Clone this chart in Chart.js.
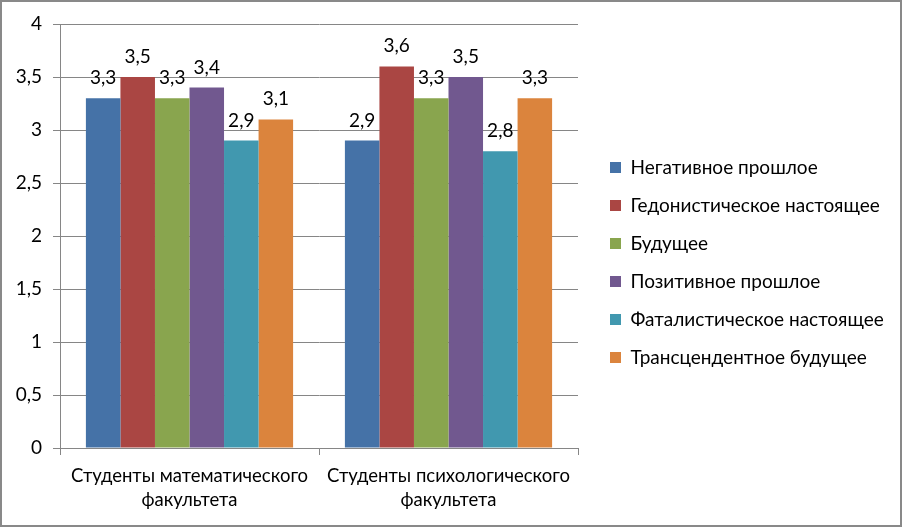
<!DOCTYPE html>
<html lang="ru">
<head>
<meta charset="UTF-8">
<title>Временная перспектива студентов</title>
<script src="https://cdn.jsdelivr.net/npm/chart.js@4.4.1/dist/chart.umd.min.js"></script>
<style>
    html, body { margin: 0; padding: 0; background: #ffffff; }
    #chartBox { position: relative; width: 902px; height: 527px; }
</style>
</head>
<body>
<div id="chartBox"><canvas id="chartCanvas"></canvas></div>
<script>
// данные
const categories = [
    ['Студенты математического', 'факультета'],
    ['Студенты психологического', 'факультета']
];
const seriesNames = [
    'Негативное прошлое',
    'Гедонистическое настоящее',
    'Будущее',
    'Позитивное прошлое',
    'Фаталистическое настоящее',
    'Трансцендентное будущее'
];
const negativePast = [3.3, 2.9];
const hedonisticPresent = [3.5, 3.6];
const future = [3.3, 3.3];
const positivePast = [3.4, 3.5];
const fatalisticPresent = [2.9, 2.8];
const transcendentalFuture = [3.1, 3.3];
const yTicks = [0, 0.5, 1, 1.5, 2, 2.5, 3, 3.5, 4];

const seriesValues = [negativePast, hedonisticPresent, future, positivePast, fatalisticPresent, transcendentalFuture];
const seriesColors = ['#4572A7', '#AA4643', '#89A54E', '#71588F', '#4198AF', '#DB843D'];

const fontFamily = 'Lato, "Open Sans", sans-serif';
const gridColor = '#868686';
const legendWidth = 324;   // место справа под легенду

// число с запятой
function formatNumber(v) {
    return String(v).replace('.', ',');
}

// подписи над столбцами
const barLabels = {
    id: 'barLabels',
    afterDatasetsDraw(chart) {
        const ctx = chart.ctx;
        ctx.save();
        ctx.font = '19px ' + fontFamily;
        ctx.fillStyle = '#000000';
        ctx.textAlign = 'center';
        ctx.textBaseline = 'alphabetic';
        chart.data.datasets.forEach((ds, i) => {
            const meta = chart.getDatasetMeta(i);
            meta.data.forEach((bar, j) => {
                ctx.fillText(formatNumber(ds.data[j]), bar.x, bar.y - 14);
            });
        });
        ctx.restore();
    }
};

// фиксированная ширина легенды и её сдвиг
const legendPlace = {
    id: 'legendPlace',
    beforeLayout(chart) {
        const legend = chart.legend;
        if (legend && !legend._fixedWidth) {
            const fit = legend.fit.bind(legend);
            legend.fit = function () {
                fit();
                this.width = legendWidth;
            };
            legend._fixedWidth = true;
        }
    },
    afterLayout(chart) {
        const legend = chart.legend;
        legend.left += 13;
        legend.top -= 13;
        legend.bottom -= 13;
    }
};

// рамка вокруг диаграммы
const outerFrame = {
    id: 'outerFrame',
    afterDraw(chart) {
        const ctx = chart.ctx;
        ctx.save();
        ctx.strokeStyle = '#898989';
        ctx.lineWidth = 2;
        ctx.strokeRect(1, 1, chart.width - 2, chart.height - 2);
        ctx.restore();
    }
};

const datasets = seriesNames.map((name, i) => ({
    label: name,
    data: seriesValues[i],
    backgroundColor: seriesColors[i],
    borderWidth: 0,
    categoryPercentage: 0.8,
    barPercentage: 1.0
}));

const ctx = document.getElementById('chartCanvas').getContext('2d');
const chart = new Chart(ctx, {
    type: 'bar',
    data: { labels: categories, datasets: datasets },
    plugins: [legendPlace, barLabels, outerFrame],
    options: {
        responsive: true,
        maintainAspectRatio: false,
        animation: false,
        layout: { padding: { top: 24, left: 0, right: 0, bottom: 0 } },
        plugins: {
            legend: {
                position: 'right',
                labels: {
                    boxWidth: 11,
                    boxHeight: 11,
                    padding: 19,
                    color: '#000000',
                    font: { family: fontFamily, size: 19 }
                }
            },
            tooltip: { enabled: false }
        },
        scales: {
            x: {
                afterFit(scale) { scale.height = 79; },
                grid: {
                    display: true,
                    drawOnChartArea: false,
                    drawTicks: true,
                    tickLength: 7,
                    color: gridColor
                },
                border: { color: gridColor, width: 1 },
                ticks: {
                    color: '#000000',
                    padding: 9,
                    font: { family: fontFamily, size: 18.5, lineHeight: 1.3 }
                }
            },
            y: {
                min: 0,
                max: 4,
                afterFit(scale) { scale.width = 60; },
                afterBuildTicks(scale) { scale.ticks = yTicks.map(v => ({ value: v })); },
                grid: { color: gridColor, tickLength: 7 },
                border: { color: gridColor, width: 1 },
                ticks: {
                    color: '#000000',
                    padding: 11,
                    font: { family: fontFamily, size: 19 },
                    callback: (v) => formatNumber(v)
                }
            }
        }
    }
});
</script>
</body>
</html>
